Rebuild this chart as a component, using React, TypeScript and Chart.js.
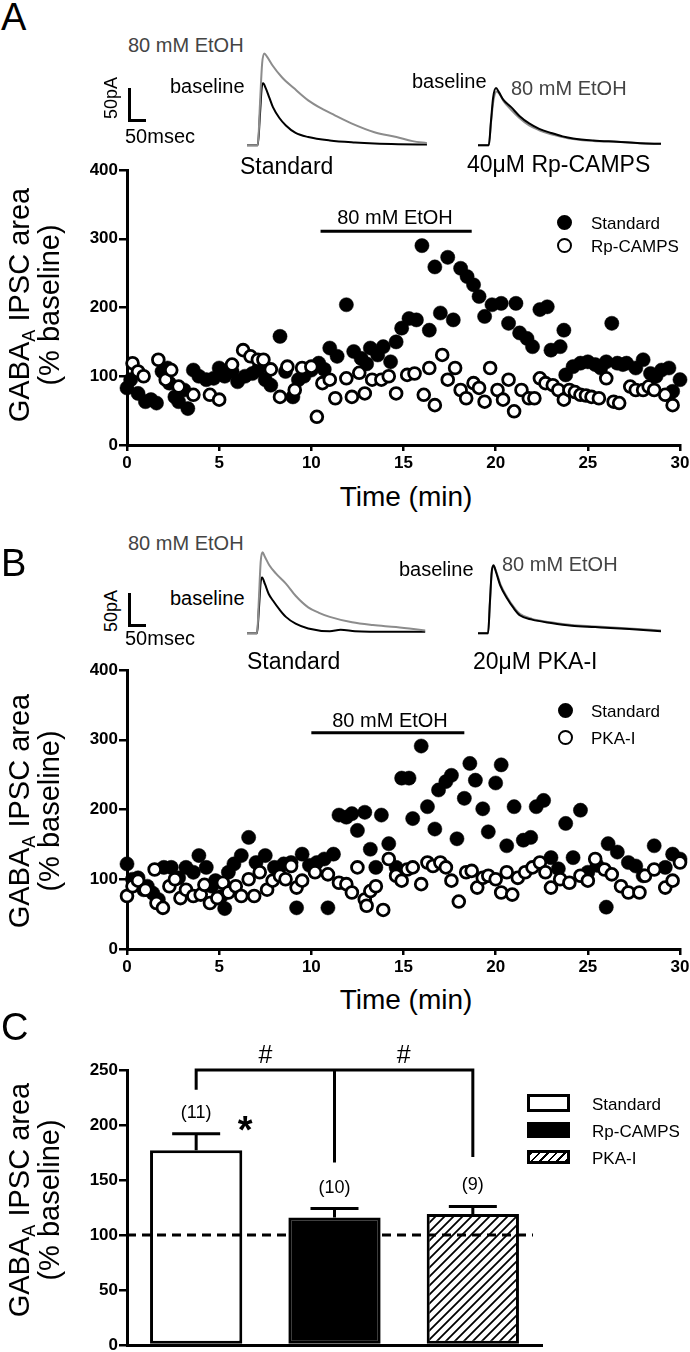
import React, { useEffect, useRef } from 'react';
import { Chart, registerables } from 'chart.js';
Chart.register(...registerables);

const FONT = "'Liberation Sans', Arial, Helvetica, sans-serif";

// ---------- Panel A: Standard (filled) ----------
const stdA_t = [0.0,0.2,0.6,1.0,1.3,1.6,1.9,2.2,2.3,2.6,2.8,3.1,3.3,3.6,3.9,4.3,4.7,5.0,5.3,5.7,6.0,6.4,6.8,7.1,7.5,7.8,8.3,8.6,9.0,9.3,9.6,10.0,10.4,10.7,11.0,11.4,11.9,12.3,12.7,13.0,13.2,13.6,13.9,14.3,14.6,14.9,15.3,15.7,16.0,16.4,16.7,17.0,17.4,17.7,18.1,18.45,18.8,19.1,19.4,19.8,20.3,20.7,21.1,21.3,21.7,22.0,22.4,22.8,23.0,23.5,23.7,23.8,24.2,24.6,25.0,25.4,25.7,26.0,26.3,26.6,26.9,27.1,27.6,28.0,28.4,28.7,29.0,29.4,29.6,30.0];
const stdA_v = [83,95,75,63,66,61,107,112,90,70,63,80,53,109,100,95,97,112,100,107,92,100,104,109,95,87,158,107,70,95,100,109,119,110,141,129,204,136,126,118,141,131,143,121,150,170,184,182,290,167,259,192,273,182,257,245,233,216,187,204,206,177,206,163,155,143,197,201,138,143,167,102,114,119,121,117,112,121,177,119,117,119,112,124,104,100,109,112,78,95];
// ---------- Panel A: Rp-CAMPS (open) ----------
const rpA_t = [0.3,0.6,0.9,1.7,2.1,2.4,2.8,3.6,4.5,5.0,5.7,6.3,6.7,7.1,7.4,7.8,8.3,8.7,9.1,9.5,10.0,10.3,10.6,11.0,11.3,11.9,12.2,12.6,12.9,13.3,13.8,14.2,14.6,15.2,15.6,16.1,16.4,16.7,17.1,17.4,17.8,18.1,18.4,18.8,19.1,19.4,19.7,20.1,20.4,20.7,21.0,21.4,21.8,22.1,22.4,22.7,23.1,23.4,23.7,24.0,24.3,24.6,24.9,25.2,25.6,26.0,26.4,26.7,27.3,27.6,28.0,28.3,28.6,29.2,29.6];
const rpA_v = [119,107,100,124,95,109,85,73,73,66,117,138,129,124,124,110,70,114,80,112,114,41,90,95,68,97,70,105,75,95,95,100,75,102,104,73,112,58,131,95,112,80,68,90,83,63,112,80,66,95,49,80,68,68,97,90,87,80,66,80,77,73,72,70,68,97,63,61,85,80,80,85,80,73,58];
const etohA_t = [10.5, 18.7];
const etohA_level = 311;

// ---------- Panel B: Standard (filled) ----------
const stdB_t = [0.0,0.3,0.6,0.9,1.1,1.4,1.7,2.0,2.4,2.8,3.2,3.6,3.9,4.3,4.6,4.8,5.1,5.3,5.5,5.8,6.2,6.6,7.0,7.5,8.0,8.5,8.9,9.2,9.5,9.9,10.3,10.7,10.9,11.2,11.5,11.9,12.2,12.5,12.9,13.2,13.5,13.8,14.2,14.6,14.9,15.3,15.5,15.96,16.3,16.7,16.9,17.3,17.6,17.9,18.3,18.6,18.9,19.3,19.6,20.0,20.3,20.6,21.0,21.5,21.9,22.2,22.6,23.0,23.4,23.8,24.2,24.6,25.0,25.5,26.0,26.1,26.6,27.2,27.6,28.0,28.6,29.2,29.6,30.0];
const stdB_v = [122,100,102,85,90,80,71,117,117,102,117,110,134,117,90,98,75,58,110,122,134,160,124,134,117,122,124,59,136,120,124,129,59,136,192,189,194,170,196,143,117,192,151,117,245,245,187,291,204,172,228,240,249,158,216,266,242,201,168,238,264,148,204,156,160,204,213,131,115,180,131,199,110,120,60,151,139,124,119,105,148,117,136,129];
// ---------- Panel B: PKA-I (open) ----------
const pkaB_t = [0.0,0.3,0.6,1.0,1.5,1.6,1.95,2.3,2.6,2.9,3.2,3.6,4.0,4.2,4.5,4.9,5.2,5.5,5.9,6.2,6.6,6.9,7.2,7.6,7.9,8.3,8.6,8.9,9.2,9.5,10.2,10.9,11.5,11.9,12.2,12.5,12.9,13.0,13.2,13.5,13.9,14.2,14.6,14.9,15.2,15.5,15.96,16.3,16.6,17.0,17.3,17.6,18.0,18.4,18.7,19.0,19.3,19.6,20.0,20.3,20.6,20.9,21.2,21.6,22.0,22.4,22.7,23.0,23.5,24.0,24.6,25.0,25.4,25.9,26.3,26.8,27.2,27.8,28.1,28.6,29.2,29.6,30.0];
const pkaB_v = [76,90,98,85,114,66,59,90,100,73,85,76,78,92,66,73,95,81,90,76,100,76,110,85,98,105,100,119,88,98,110,107,95,93,81,117,71,62,83,90,56,129,105,98,114,117,93,124,119,124,117,98,68,110,112,88,102,105,100,81,110,78,102,110,117,124,110,88,100,95,105,98,129,114,107,90,81,81,105,114,88,98,124];
const etohB_t = [10.0, 18.3];
const etohB_level = 310;

// ---------- Inset traces (ms, pA) ----------
const trA_std_etoh_ms = [0,30,36,42,48,56,70,97,130,170,210,244,290,354,415,460,500];
const trA_std_etoh_pA = [0,0,60,120,135,130,118,100,84,66,53,44,32,19,12,6,3];
const trA_std_base_ms = [0,30,36,41,45,52,62,72,90,108,135,170,230,300,354,420,500];
const trA_std_base_pA = [0,0,45,85,91,84,70,56,40,29,18,12,7,4,2.5,1.5,1];
const trA_rp_base_ms = [0,30,36,42,50,58,70,92,115,142,170,203,235,264,320,386,450,508];
const trA_rp_base_pA = [0,0,35,70,84,78,67,56,43,32,24,18,13,10,7,5,3,2];
const trA_rp_etoh_ms = [0,30,36,43,52,60,72,92,115,142,170,203,235,264,320,386,450,508];
const trA_rp_etoh_pA = [0,0,33,66,79,75,64,52,40,29,22,16,12,9,6,5,3,2];
const trB_std_etoh_ms = [0,28,33,38,43,50,62,80,108,135,170,200,230,292,350,414,495];
const trB_std_etoh_pA = [0,0,50,105,119,112,100,88,73,55,38,30,24,16,12,9,4];
const trB_std_base_ms = [0,28,33,38,42,50,60,72,90,108,135,170,230,260,300,400,495];
const trB_std_base_pA = [0,0,35,75,82,72,58,48,35,24,14,7,3,5,3,2,2];
const trB_pka_base_ms = [0,28,33,38,43,50,62,81,100,117,150,203,260,325,420,508];
const trB_pka_base_pA = [0,0,45,90,100,90,70,51,36,26,20,15,11,9,6,3];
const trB_pka_etoh_ms = [0,28,33,38,44,51,62,81,100,117,150,203,260,325,420,508];
const trB_pka_etoh_pA = [0,0,43,88,98,90,72,53,38,28,21,16,12,10,7,4];

// ---------- Panel C ----------
const groupsC = ['Standard', 'Rp-CAMPS', 'PKA-I'];
const meansC = [177, 116, 119];
const semsC = [15, 8, 7];
const nLabelsC = ['(11)', '(10)', '(9)'];
const baselineC = 100;
const bracketLevelC = 250;
const bracketDropsC = [232, 166, 171];

const tickFont = { family: FONT, size: 17, weight: 'bold' as const };

function pts(xs: number[], ys: number[]) {
  return xs.map((x, i) => ({ x, y: ys[i] }));
}

function makeScatter(canvas: HTMLCanvasElement, fT: number[], fV: number[], oT: number[], oV: number[], barT: number[], barLevel: number) {
  return new Chart(canvas, {
    type: 'scatter',
    data: {
      datasets: [
        { data: pts(oT, oV), pointRadius: 5.9, pointBackgroundColor: '#fff', pointBorderColor: '#000', pointBorderWidth: 2.8, clip: false } as any,
        { data: pts(fT, fV), pointRadius: 7.1, pointBackgroundColor: '#000', pointBorderColor: '#000', pointBorderWidth: 0.5, clip: false } as any,
        { data: barT.map(t => ({ x: t, y: barLevel })), showLine: true, borderColor: '#000', borderWidth: 3, pointRadius: 0, clip: false } as any,
      ],
    },
    options: {
      responsive: false,
      animation: false,
      events: [],
      layout: { padding: { top: 20, right: 10, left: 0, bottom: 0 } },
      plugins: { legend: { display: false }, tooltip: { enabled: false } },
      scales: {
        x: {
          type: 'linear', min: 0, max: 30,
          ticks: { stepSize: 5, color: '#000', font: tickFont, padding: 2, maxRotation: 0, autoSkip: false },
          grid: { drawOnChartArea: false, drawTicks: true, tickLength: 6, color: '#000', lineWidth: 2.5 },
          border: { display: true, color: '#000', width: 3 },
          afterFit: (s: any) => { s.height = 35; s.paddingLeft = 0; s.paddingRight = 0; },
        },
        y: {
          type: 'linear', min: 0, max: 400,
          ticks: { stepSize: 100, color: '#000', font: tickFont, padding: 1 },
          grid: { drawOnChartArea: false, drawTicks: true, tickLength: 8, color: '#000', lineWidth: 2.5 },
          border: { display: true, color: '#000', width: 3 },
          afterFit: (s: any) => { s.width = 127; s.paddingTop = 0; s.paddingBottom = 0; },
        },
      },
    } as any,
  });
}

function makeTrace(canvas: HTMLCanvasElement, maxMs: number, traces: { x: number[]; y: number[]; c: string }[]) {
  return new Chart(canvas, {
    type: 'line',
    data: {
      datasets: traces.map(t => ({
        data: pts(t.x, t.y), borderColor: t.c, borderWidth: 2, pointRadius: 0,
        cubicInterpolationMode: 'monotone', fill: false,
      })) as any,
    },
    options: {
      responsive: false, animation: false, events: [],
      layout: { padding: 0 },
      plugins: { legend: { display: false }, tooltip: { enabled: false } },
      scales: {
        x: { type: 'linear', min: 0, max: maxMs, display: false },
        y: { type: 'linear', min: -10, max: 140, display: false },
      },
    } as any,
  });
}

const cOverlay = {
  id: 'cOverlay',
  afterDatasetsDraw(chart: any) {
    const { ctx, scales, chartArea } = chart;
    const x = scales.x, y = scales.y;
    ctx.save();
    ctx.strokeStyle = '#000';
    ctx.fillStyle = '#000';
    ctx.lineWidth = 3;
    ctx.setLineDash([9, 6]);
    const y100 = y.getPixelForValue(baselineC);
    ctx.beginPath();
    ctx.moveTo(chartArea.left, y100);
    ctx.lineTo(chartArea.right - 9, y100);
    ctx.stroke();
    ctx.setLineDash([]);
    ctx.textAlign = 'center';
    ctx.textBaseline = 'middle';
    meansC.forEach((m, i) => {
      const cx = x.getPixelForValue(i);
      const top = y.getPixelForValue(m);
      const cap = y.getPixelForValue(m + semsC[i]);
      ctx.beginPath();
      ctx.moveTo(cx, top); ctx.lineTo(cx, cap);
      ctx.moveTo(cx - 24, cap); ctx.lineTo(cx + 24, cap);
      ctx.stroke();
      ctx.font = `18px ${FONT}`;
      ctx.fillText(nLabelsC[i], cx, cap - 21);
    });
    const by = y.getPixelForValue(bracketLevelC);
    const xs = groupsC.map((_, i) => x.getPixelForValue(i));
    ctx.beginPath();
    ctx.moveTo(xs[0] - 1.5, by); ctx.lineTo(xs[2] + 1.5, by);
    bracketDropsC.forEach((d, i) => { ctx.moveTo(xs[i], by); ctx.lineTo(xs[i], y.getPixelForValue(d)); });
    ctx.stroke();
    ctx.font = `25px ${FONT}`;
    ctx.fillText('#', (xs[0] + xs[1]) / 2, by - 14);
    ctx.fillText('#', (xs[1] + xs[2]) / 2, by - 14);
    ctx.font = `bold 38px ${FONT}`;
    const cap0 = y.getPixelForValue(meansC[0] + semsC[0]);
    ctx.fillText('*', xs[0] + 49, cap0 - 1);
    ctx.restore();
  },
};

function makeBars(canvas: HTMLCanvasElement) {
  const pc = document.createElement('canvas');
  pc.width = 9; pc.height = 9;
  const p = pc.getContext('2d')!;
  p.fillStyle = '#fff'; p.fillRect(0, 0, 9, 9);
  p.strokeStyle = '#000'; p.lineWidth = 1.8;
  p.beginPath();
  p.moveTo(0, 9); p.lineTo(9, 0);
  p.moveTo(-2, 2); p.lineTo(2, -2);
  p.moveTo(7, 11); p.lineTo(11, 7);
  p.stroke();
  const hatch = canvas.getContext('2d')!.createPattern(pc, 'repeat');
  return new Chart(canvas, {
    type: 'bar',
    data: {
      labels: groupsC,
      datasets: [{
        data: meansC,
        backgroundColor: ['#fff', '#000', hatch as any],
        borderColor: '#000', borderWidth: 3, borderSkipped: false,
        barPercentage: 0.667, categoryPercentage: 1,
      }],
    },
    options: {
      responsive: false, animation: false, events: [],
      layout: { padding: { top: 30, right: 148, left: 0, bottom: 0 } },
      plugins: { legend: { display: false }, tooltip: { enabled: false } },
      scales: {
        x: {
          ticks: { display: false },
          grid: { display: false },
          border: { display: true, color: '#000', width: 3 },
          afterFit: (s: any) => { s.height = 7; s.paddingLeft = 0; s.paddingRight = 0; },
        },
        y: {
          min: 0, max: 250,
          ticks: { stepSize: 50, color: '#000', font: tickFont, padding: 1 },
          grid: { drawOnChartArea: false, drawTicks: true, tickLength: 8, color: '#000', lineWidth: 2.5 },
          border: { display: true, color: '#000', width: 3 },
          afterFit: (s: any) => { s.width = 127; s.paddingTop = 0; s.paddingBottom = 0; },
        },
      },
    } as any,
    plugins: [cOverlay],
  });
}

type TP = { x: number; y: number; s: number; c?: string; center?: boolean; bold?: boolean; children: React.ReactNode };
const T = ({ x, y, s, c = '#000', center, bold, children }: TP) => (
  <div style={{
    position: 'absolute', left: x, top: y - s * 0.5, fontSize: s, lineHeight: 1, color: c,
    whiteSpace: 'nowrap', fontWeight: bold ? 'bold' : 'normal',
    transform: center ? 'translateX(-50%)' : undefined,
  }}>{children}</div>
);
const R = ({ x, y, s, children }: { x: number; y: number; s: number; children: React.ReactNode }) => (
  <div style={{
    position: 'absolute', left: x, top: y, fontSize: s, lineHeight: 1, whiteSpace: 'nowrap',
    transform: 'translate(-50%, -50%) rotate(-90deg)',
  }}>{children}</div>
);
const Box = ({ l, t, w, h, bg = '#000' }: { l: number; t: number; w: number; h: number; bg?: string }) => (
  <div style={{ position: 'absolute', left: l, top: t, width: w, height: h, background: bg }} />
);
const Dot = ({ cx, cy, open }: { cx: number; cy: number; open?: boolean }) => (
  <div style={{
    position: 'absolute', left: cx - 7.5, top: cy - 7.5, width: 15, height: 15, borderRadius: '50%',
    boxSizing: 'border-box', background: open ? '#fff' : '#000', border: '2.8px solid #000',
  }} />
);
const YTitle = ({ cy }: { cy: number }) => (
  <>
    <R x={19} y={cy} s={29}>GABA<span style={{ fontSize: '0.62em', position: 'relative', top: '0.32em' }}>A</span> IPSC area</R>
    <R x={49} y={cy} s={29}>(% baseline)</R>
  </>
);
const GRAY = '#8c8c8c';
const LBLGRAY = '#444';

export default function App() {
  const aRef = useRef<HTMLCanvasElement>(null);
  const bRef = useRef<HTMLCanvasElement>(null);
  const cRef = useRef<HTMLCanvasElement>(null);
  const t1 = useRef<HTMLCanvasElement>(null);
  const t2 = useRef<HTMLCanvasElement>(null);
  const t3 = useRef<HTMLCanvasElement>(null);
  const t4 = useRef<HTMLCanvasElement>(null);

  useEffect(() => {
    const charts: Chart[] = [];
    charts.push(makeScatter(aRef.current!, stdA_t, stdA_v, rpA_t, rpA_v, etohA_t, etohA_level));
    charts.push(makeScatter(bRef.current!, stdB_t, stdB_v, pkaB_t, pkaB_v, etohB_t, etohB_level));
    charts.push(makeBars(cRef.current!));
    charts.push(makeTrace(t1.current!, 500, [
      { x: trA_std_etoh_ms, y: trA_std_etoh_pA, c: GRAY },
      { x: trA_std_base_ms, y: trA_std_base_pA, c: '#000' },
    ]));
    charts.push(makeTrace(t2.current!, 508, [
      { x: trA_rp_base_ms, y: trA_rp_base_pA, c: '#000' },
      { x: trA_rp_etoh_ms, y: trA_rp_etoh_pA, c: GRAY },
    ]));
    charts.push(makeTrace(t3.current!, 500, [
      { x: trB_std_etoh_ms, y: trB_std_etoh_pA, c: GRAY },
      { x: trB_std_base_ms, y: trB_std_base_pA, c: '#000' },
    ]));
    charts.push(makeTrace(t4.current!, 508, [
      { x: trB_pka_base_ms, y: trB_pka_base_pA, c: '#000' },
      { x: trB_pka_etoh_ms, y: trB_pka_etoh_pA, c: GRAY },
    ]));
    return () => charts.forEach(c => c.destroy());
  }, []);

  const cv = (l: number, t: number, w: number, h: number) => ({ position: 'absolute' as const, left: l, top: t, width: w, height: h });

  return (
    <div style={{ position: 'absolute', left: 0, top: 0, width: 690, height: 1352, background: '#fff', fontFamily: FONT, overflow: 'hidden', color: '#000' }}>
      <canvas ref={aRef} width={690} height={330} style={cv(0, 150, 690, 330)} />
      <canvas ref={bRef} width={690} height={334} style={cv(0, 650, 690, 334)} />
      <canvas ref={cRef} width={690} height={312} style={cv(0, 1040, 690, 312)} />
      <canvas ref={t1} width={180} height={102} style={cv(247, 50, 180, 102)} />
      <canvas ref={t2} width={183} height={102} style={cv(478, 50, 183, 102)} />
      <canvas ref={t3} width={180} height={102} style={cv(247, 538, 180, 102)} />
      <canvas ref={t4} width={183} height={102} style={cv(478, 538, 183, 102)} />

      {/* Panel A */}
      <T x={1} y={17} s={38}>A</T>
      <T x={128} y={45} s={20} c={LBLGRAY}>80 mM EtOH</T>
      <T x={170} y={86} s={20}>baseline</T>
      <R x={111} y={98} s={18}>50pA</R>
      <Box l={128} t={88} w={3} h={34} />
      <Box l={128} t={119} w={18} h={3} />
      <T x={125} y={136} s={20}>50msec</T>
      <T x={240} y={166} s={23}>Standard</T>
      <T x={412} y={81} s={20}>baseline</T>
      <T x={511} y={88} s={20} c={LBLGRAY}>80 mM EtOH</T>
      <T x={467} y={164} s={23}>40μM Rp-CAMPS</T>
      <T x={395} y={217} s={20} center>80 mM EtOH</T>
      <Dot cx={564} cy={222} />
      <T x={591} y={223} s={17}>Standard</T>
      <Dot cx={564} cy={245} open />
      <T x={591} y={246} s={17}>Rp-CAMPS</T>
      <YTitle cy={305} />
      <T x={406} y={497} s={28} center>Time (min)</T>

      {/* Panel B */}
      <T x={1} y={563} s={38}>B</T>
      <T x={128} y={543} s={20} c={LBLGRAY}>80 mM EtOH</T>
      <T x={170} y={598} s={20}>baseline</T>
      <R x={111} y={611} s={18}>50pA</R>
      <Box l={128} t={593} w={3} h={34} />
      <Box l={128} t={624} w={18} h={3} />
      <T x={125} y={638} s={20}>50msec</T>
      <T x={247} y={661} s={23}>Standard</T>
      <T x={399} y={569} s={20}>baseline</T>
      <T x={502} y={564} s={20} c={LBLGRAY}>80 mM EtOH</T>
      <T x={473} y={661} s={23}>20μM PKA-I</T>
      <T x={390} y={720} s={20} center>80 mM EtOH</T>
      <Dot cx={565} cy={710} />
      <T x={591} y={711} s={17}>Standard</T>
      <Dot cx={565} cy={737} open />
      <T x={591} y={738} s={17}>PKA-I</T>
      <YTitle cy={811} />
      <T x={406} y={1000} s={28} center>Time (min)</T>

      {/* Panel C */}
      <T x={1} y={1027} s={38}>C</T>
      <YTitle cy={1200} />
      <div style={{ position: 'absolute', left: 527, top: 1094, width: 43, height: 18, boxSizing: 'border-box', border: '3px solid #000', background: '#fff' }} />
      <T x={592} y={1104} s={17}>Standard</T>
      <div style={{ position: 'absolute', left: 527, top: 1122, width: 43, height: 16, background: '#000' }} />
      <T x={592} y={1131} s={17}>Rp-CAMPS</T>
      <div style={{ position: 'absolute', left: 527, top: 1150, width: 43, height: 14, boxSizing: 'border-box', border: '3px solid #000', background: 'repeating-linear-gradient(135deg, #000 0 1.6px, #fff 1.6px 6px)' }} />
      <T x={592} y={1158} s={17}>PKA-I</T>
    </div>
  );
}
